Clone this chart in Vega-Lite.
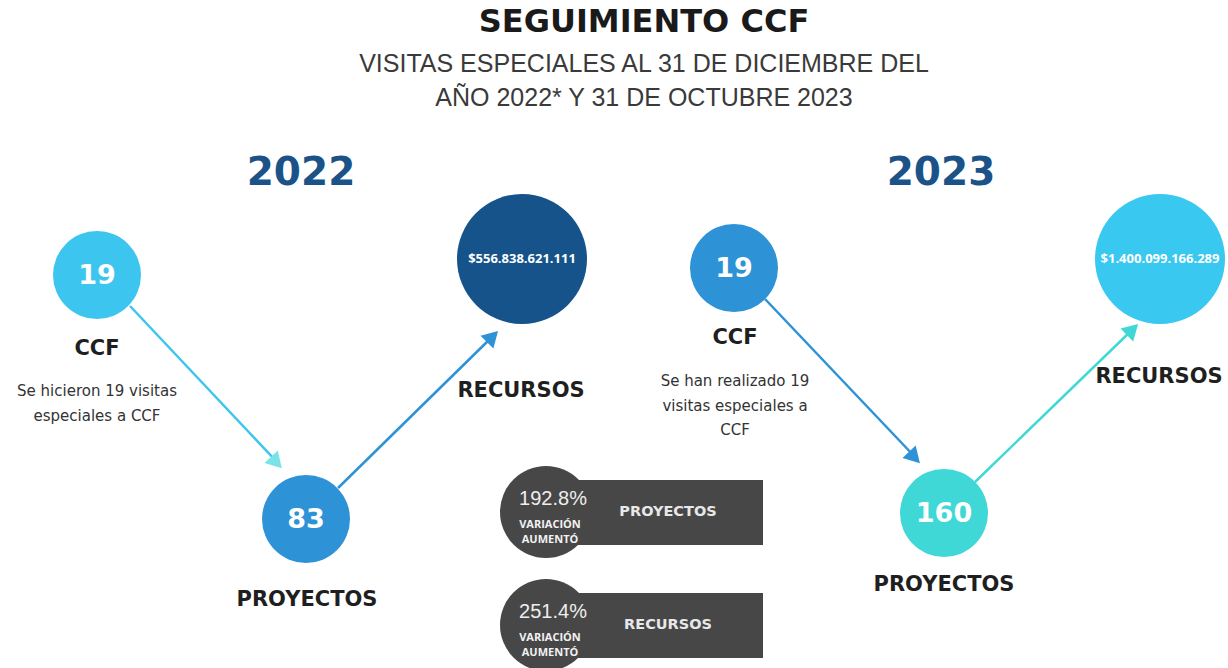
{
  "$schema": "https://vega.github.io/schema/vega-lite/v6.json",
  "width": 1228,
  "height": 668,
  "autosize": {"type": "none"},
  "padding": 0,
  "background": "#ffffff",
  "config": {"view": {"stroke": null}, "axis": {"disable": true}},
  "datasets": {
    "titulos": [
      {"texto": "SEGUIMIENTO CCF", "x": 644, "y": 22}
    ],
    "subtitulos": [
      {"texto": "VISITAS ESPECIALES AL 31 DE DICIEMBRE DEL", "x": 644, "y": 64},
      {"texto": "AÑO 2022* Y 31 DE OCTUBRE 2023", "x": 644, "y": 98}
    ],
    "anios": [
      {"texto": "2022", "x": 301, "y": 173},
      {"texto": "2023", "x": 941, "y": 173}
    ],
    "flechas": [
      {"desde": "CCF 2022", "hacia": "PROYECTOS 2022", "x": 130, "y": 306, "x2": 277, "y2": 462, "tono": "cian"},
      {"desde": "PROYECTOS 2022", "hacia": "RECURSOS 2022", "x": 338, "y": 488, "x2": 492, "y2": 337, "tono": "azul"},
      {"desde": "CCF 2023", "hacia": "PROYECTOS 2023", "x": 765, "y": 299, "x2": 915, "y2": 457, "tono": "azul"},
      {"desde": "PROYECTOS 2023", "hacia": "RECURSOS 2023", "x": 975, "y": 482, "x2": 1132, "y2": 330, "tono": "turquesa"}
    ],
    "puntas": [
      {"hacia": "PROYECTOS 2022", "x": 276.5, "y": 462.5, "angulo": 137, "tono": "aguamarina"},
      {"hacia": "RECURSOS 2022", "x": 492.5, "y": 336.5, "angulo": 45, "tono": "azul"},
      {"hacia": "PROYECTOS 2023", "x": 914.5, "y": 457.5, "angulo": 136.5, "tono": "azul"},
      {"hacia": "RECURSOS 2023", "x": 1132.5, "y": 329.5, "angulo": 46, "tono": "turquesa"}
    ],
    "nodos": [
      {"anio": 2022, "etapa": "CCF", "valor": "19", "x": 97, "y": 275, "tono": "cian"},
      {"anio": 2022, "etapa": "PROYECTOS", "valor": "83", "x": 306, "y": 519, "tono": "azul"},
      {"anio": 2023, "etapa": "CCF", "valor": "19", "x": 734, "y": 268, "tono": "azul"},
      {"anio": 2023, "etapa": "PROYECTOS", "valor": "160", "x": 944, "y": 513, "tono": "turquesa"}
    ],
    "recursos": [
      {"anio": 2022, "etapa": "RECURSOS", "valor": "$556.838.621.111", "x": 522, "y": 259, "tono": "marino"},
      {"anio": 2023, "etapa": "RECURSOS", "valor": "$1.400.099.166.289", "x": 1160, "y": 259, "tono": "celeste"}
    ],
    "etiquetas": [
      {"texto": "CCF", "x": 97, "y": 349},
      {"texto": "PROYECTOS", "x": 307, "y": 600},
      {"texto": "RECURSOS", "x": 521, "y": 391},
      {"texto": "CCF", "x": 735, "y": 338},
      {"texto": "PROYECTOS", "x": 944, "y": 585},
      {"texto": "RECURSOS", "x": 1159, "y": 377}
    ],
    "descripciones": [
      {"texto": "Se hicieron 19 visitas", "x": 97, "y": 391},
      {"texto": "especiales a CCF", "x": 97, "y": 416},
      {"texto": "Se han realizado 19", "x": 735, "y": 381},
      {"texto": "visitas especiales a", "x": 735, "y": 406},
      {"texto": "CCF", "x": 735, "y": 430}
    ],
    "variaciones": [
      {"indicador": "PROYECTOS", "variacion": "192.8%", "x": 546, "xfin": 763, "y": 512, "ytop": 480, "ybot": 545},
      {"indicador": "RECURSOS", "variacion": "251.4%", "x": 546, "xfin": 763, "y": 625, "ytop": 593, "ybot": 658}
    ]
  },
  "encoding": {
    "x": {"field": "x", "type": "quantitative", "scale": {"domain": [0, 1228], "nice": false, "zero": false}, "axis": null},
    "y": {"field": "y", "type": "quantitative", "scale": {"domain": [0, 668], "nice": false, "zero": false, "reverse": true}, "axis": null}
  },
  "layer": [
    {
      "data": {"name": "flechas"},
      "mark": {"type": "rule", "strokeWidth": 2.5},
      "encoding": {
        "x2": {"field": "x2"},
        "y2": {"field": "y2"},
        "color": {"field": "tono", "type": "nominal", "legend": null,
          "scale": {"domain": ["cian", "azul", "marino", "turquesa", "celeste", "aguamarina"],
                    "range": ["#3cc6ef", "#2e92d7", "#15538a", "#3fd8d6", "#38c8f0", "#7ae3e6"]}}
      }
    },
    {
      "data": {"name": "puntas"},
      "mark": {"type": "point", "shape": "triangle-up", "filled": true, "opacity": 1, "size": 330},
      "encoding": {
        "angle": {"field": "angulo", "type": "quantitative", "scale": null},
        "color": {"field": "tono", "type": "nominal", "legend": null}
      }
    },
    {
      "data": {"name": "nodos"},
      "mark": {"type": "point", "shape": "circle", "filled": true, "opacity": 1, "size": 7744},
      "encoding": {
        "color": {"field": "tono", "type": "nominal", "legend": null}
      }
    },
    {
      "data": {"name": "recursos"},
      "mark": {"type": "point", "shape": "circle", "filled": true, "opacity": 1, "size": 16900},
      "encoding": {
        "color": {"field": "tono", "type": "nominal", "legend": null}
      }
    },
    {
      "data": {"name": "variaciones"},
      "mark": {"type": "rect", "color": "#474747"},
      "encoding": {
        "x2": {"field": "xfin"},
        "y": {"field": "ytop", "type": "quantitative"},
        "y2": {"field": "ybot"}
      }
    },
    {
      "data": {"name": "variaciones"},
      "mark": {"type": "point", "shape": "circle", "filled": true, "opacity": 1, "size": 8464, "color": "#474747"}
    },
    {
      "data": {"name": "titulos"},
      "mark": {"type": "text", "font": "DejaVu Sans", "fontWeight": "bold", "fontSize": 32, "color": "#1a1a1a", "baseline": "middle", "align": "center"},
      "encoding": {"text": {"field": "texto"}}
    },
    {
      "data": {"name": "subtitulos"},
      "mark": {"type": "text", "font": "Liberation Sans", "fontSize": 25, "color": "#3a3a3a", "baseline": "middle", "align": "center"},
      "encoding": {"text": {"field": "texto"}}
    },
    {
      "data": {"name": "anios"},
      "mark": {"type": "text", "font": "DejaVu Sans", "fontWeight": "bold", "fontSize": 39, "color": "#1b5288", "baseline": "middle", "align": "center"},
      "encoding": {"text": {"field": "texto"}}
    },
    {
      "data": {"name": "nodos"},
      "mark": {"type": "text", "font": "DejaVu Sans", "fontWeight": "bold", "fontSize": 27, "color": "#ffffff", "baseline": "middle", "align": "center", "dy": 1},
      "encoding": {"text": {"field": "valor"}}
    },
    {
      "data": {"name": "recursos"},
      "mark": {"type": "text", "font": "Open Sans", "fontWeight": "bold", "fontSize": 13, "color": "#ffffff", "baseline": "middle", "align": "center"},
      "encoding": {"text": {"field": "valor"}}
    },
    {
      "data": {"name": "etiquetas"},
      "mark": {"type": "text", "font": "DejaVu Sans", "fontWeight": "bold", "fontSize": 21, "color": "#1f1f1f", "baseline": "middle", "align": "center"},
      "encoding": {"text": {"field": "texto"}}
    },
    {
      "data": {"name": "descripciones"},
      "mark": {"type": "text", "font": "DejaVu Sans", "fontSize": 15, "color": "#333333", "baseline": "middle", "align": "center"},
      "encoding": {"text": {"field": "texto"}}
    },
    {
      "data": {"name": "variaciones"},
      "mark": {"type": "text", "font": "Liberation Sans", "fontSize": 20, "color": "#eeeeee", "baseline": "middle", "align": "center", "dx": 7, "dy": -13.5},
      "encoding": {"text": {"field": "variacion"}}
    },
    {
      "data": {"name": "variaciones"},
      "mark": {"type": "text", "font": "Open Sans", "fontWeight": "bold", "fontSize": 11, "color": "#f2f2f2", "baseline": "middle", "align": "center", "dx": 4, "dy": 13},
      "encoding": {"text": {"value": "VARIACIÓN"}}
    },
    {
      "data": {"name": "variaciones"},
      "mark": {"type": "text", "font": "Open Sans", "fontWeight": "bold", "fontSize": 11, "color": "#f2f2f2", "baseline": "middle", "align": "center", "dx": 4, "dy": 28},
      "encoding": {"text": {"value": "AUMENTÓ"}}
    },
    {
      "data": {"name": "variaciones"},
      "mark": {"type": "text", "font": "DejaVu Sans", "fontWeight": "bold", "fontSize": 14.5, "color": "#e8e8e8", "baseline": "middle", "align": "center", "dx": 122},
      "encoding": {"text": {"field": "indicador"}}
    }
  ]
}
